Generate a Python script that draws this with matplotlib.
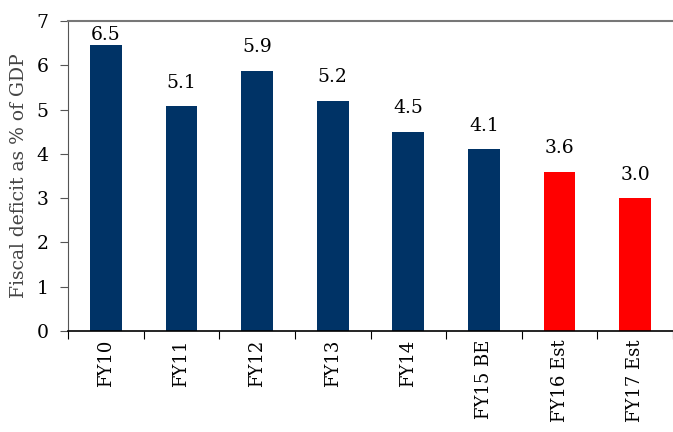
import matplotlib
matplotlib.use("Agg")
import matplotlib.pyplot as plt
import numpy as np

categories = ["FY10", "FY11", "FY12", "FY13", "FY14", "FY15 BE", "FY16 Est", "FY17 Est"]
values = [6.45, 5.07, 5.87, 5.2, 4.5, 4.1, 3.6, 3.0]
labels = ["6.5", "5.1", "5.9", "5.2", "4.5", "4.1", "3.6", "3.0"]
colors = ["#003366"] * 6 + ["#ff0000"] * 2

plt.rcParams['font.family'] = ['DejaVu Serif']

fig = plt.figure(figsize=(6.73, 4.32), dpi=100)
ax = fig.add_axes([68/673, 1 - 331/432, 605/673, 310/432])

x = np.arange(len(categories))
ax.bar(x, values, width=0.42, color=colors)
ax.set_xlim(-0.5, len(categories) - 0.5)
ax.set_ylim(0, 7)

for xi, v, lab in zip(x, values, labels):
    y = min(v + 0.33, 6.47)
    ax.text(xi, y, lab, ha='center', va='bottom', fontsize=13.5, color='black')

ax.set_yticks(range(0, 8))
ax.tick_params(axis='y', labelsize=13.5, direction='out', length=6, pad=8, color='#555555')
ax.set_xticks(np.arange(-0.5, len(categories), 1), minor=False)
ax.set_xticklabels([])
ax.set_xticks(x, minor=True)
ax.set_xticklabels(categories, minor=True, rotation=90, fontsize=13)
ax.tick_params(axis='x', which='major', direction='out', length=6, color='black')
ax.tick_params(axis='x', which='minor', length=0, pad=6)

ax.spines['right'].set_visible(False)
ax.spines['top'].set_color('#777777')
ax.spines['top'].set_linewidth(1.5)
ax.spines['left'].set_color('#555555')
ax.spines['bottom'].set_color('black')
ax.spines['bottom'].set_linewidth(1.2)

ax.set_ylabel("Fiscal deficit as % of GDP", fontsize=13.5, color='#444444', labelpad=6)

fig.savefig("out.png", dpi=100)
